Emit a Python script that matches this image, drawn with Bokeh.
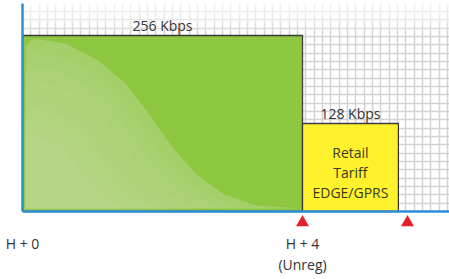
import numpy as np
from bokeh.plotting import figure
from bokeh.models import (Range1d, FixedTicker, SingleIntervalTicker, Span,
                          BoxAnnotation, ColumnDataSource)
from bokeh.core.properties import value
from bokeh.embed import file_html
from bokeh.resources import INLINE

# ---------------- data ----------------
tier_labels = ["256 Kbps", "128 Kbps"]
speed_kbps = [256, 128]
start_hour = [0, 4]
end_hour = [4, 5.37]
bar_colors = ["#8DC63F", "#FFF22D"]
inner_labels = ["", "Retail\nTariff\nEDGE/GPRS"]
tick_hours = [0, 4]
tick_labels = ["H + 0", "H + 4\n(Unreg)"]
marker_hours = [4, 5.5]

# decorative highlight on the first bar, as fractions of the bar's box
shape_fx = [0.011, 0.011, 0.04, 0.154, 0.271, 0.368, 0.45, 0.536, 0.618,
            0.714, 0.832, 0.975, 0.975]
shape_fy = [0.017, 0.94, 0.983, 0.955, 0.858, 0.727, 0.557, 0.364, 0.216,
            0.102, 0.034, 0.02, 0.017]

FONT = "Open Sans"
TEXT = "#333333"
BLUE = "#2D8FD5"
Y_TOP = 302.5
Y_BOTTOM = -24.7
MARKER_Y = -16

p = figure(frame_width=427, frame_height=225,
           x_range=Range1d(0, 6.1), y_range=Range1d(Y_BOTTOM, Y_TOP),
           output_backend="svg", toolbar_location=None,
           min_border_left=22, min_border_right=0, min_border_top=3,
           min_border_bottom=51, outline_line_color=None,
           background_fill_color="white", border_fill_color="white")

# grid
p.xgrid.ticker = SingleIntervalTicker(interval=0.119)
p.ygrid.ticker = SingleIntervalTicker(interval=12.12)
p.grid.grid_line_color = "#d2d2d2"
p.grid.grid_line_width = 1.5

# white cover below baseline (hides grid under the axis)
p.renderers.append(BoxAnnotation(top=0, fill_color="white", fill_alpha=1,
                                 line_color=None, level="glyph"))
# fade of grid toward the top
for i in range(1, 10):
    p.renderers.append(BoxAnnotation(bottom=Y_TOP - 4.5 * i, fill_color="white",
                                     fill_alpha=0.16, line_color=None,
                                     level="glyph"))

# bars
src = ColumnDataSource(dict(left=start_hour, right=end_hour,
                            top=speed_kbps, bottom=[0] * len(speed_kbps),
                            color=bar_colors, label=tier_labels,
                            cx=[(a + b) / 2 for a, b in zip(start_hour, end_hour)]))
p.quad(left="left", right="right", top="top", bottom="bottom", source=src,
       fill_color="color", line_color="#3a3a3a", line_width=1.3)

# highlight on green bar
w = end_hour[0] - start_hour[0]
h = speed_kbps[0]
hx = np.array(shape_fx)
hy = np.array(shape_fy)
p.patch(start_hour[0] + hx * w, hy * h, fill_color="#A4CF69", line_color=None)
for s in [0.92, 0.84, 0.76, 0.68, 0.6, 0.52, 0.44]:
    p.patch(start_hour[0] + hx * w * s, hy * h * s, fill_color="white",
            fill_alpha=0.035, line_color=None)

# tier labels above bars
p.text(x="cx", y="top", text="label", source=src, text_align="center",
       text_baseline="alphabetic", y_offset=-10, text_font=value(FONT),
       text_font_size="14px", text_color=TEXT, level="overlay")

# inner text
inner = [(c, t / 2, l) for c, t, l in zip(src.data["cx"], speed_kbps, inner_labels) if l]
p.text(x=[i[0] for i in inner], y=[i[1] for i in inner], text=[i[2] for i in inner],
       text_align="center", text_baseline="middle", y_offset=5,
       text_line_height=1.05, text_font=value(FONT), text_font_size="14px",
       text_color="#3a3a22", level="overlay")

# red markers
p.scatter(x=marker_hours, y=[MARKER_Y] * len(marker_hours), marker="triangle",
          size=13, fill_color="#E3212B", line_color=None, level="overlay")

# baseline
p.add_layout(Span(location=0, dimension="width", line_color=BLUE, line_width=2.5))

# axes
p.yaxis.ticker = FixedTicker(ticks=[])
p.yaxis.bounds = (0, Y_TOP)
p.yaxis.axis_line_color = BLUE
p.yaxis.axis_line_width = 2.5
p.yaxis.major_tick_line_color = None
p.yaxis.minor_tick_line_color = None
p.yaxis.major_label_text_font_size = "0px"

p.xaxis.ticker = FixedTicker(ticks=tick_hours)
p.xaxis.major_label_overrides = {k: v for k, v in zip(tick_hours, tick_labels)}
p.xaxis.axis_line_color = None
p.xaxis.major_tick_line_color = None
p.xaxis.minor_tick_line_color = None
p.xaxis.major_label_standoff = -1
p.xaxis.major_label_text_font = FONT
p.xaxis.major_label_text_font_size = "14px"
p.xaxis.major_label_text_color = TEXT
p.xaxis.major_label_text_line_height = 1.15

open("out.html", "w").write(file_html(p, INLINE))
